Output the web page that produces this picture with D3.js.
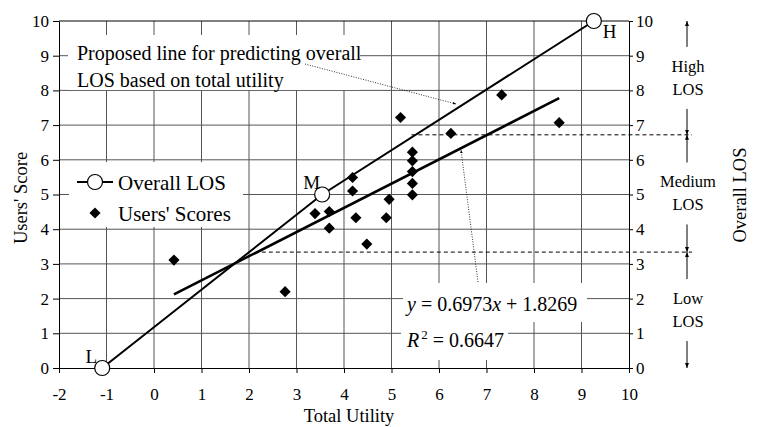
<!DOCTYPE html>
<html lang="en">
<head>
<meta charset="UTF-8">
<title>Overall LOS vs Total Utility</title>
<style>
  body { margin: 0; background: #fff; }
  svg { font-family: "Liberation Serif", "Times New Roman", serif; }
  .grid line { stroke: #555; stroke-width: 1; }
  .axis text { fill: #000; font-family: "Liberation Serif", "Times New Roman", serif; font-size: 17px; }
  .axis path, .axis line { stroke: #000; }
</style>
</head>
<body>
<script src="https://cdn.jsdelivr.net/npm/d3@7"></script>
<script>
// data
const userX = [0.42, 2.76, 3.39, 3.69, 3.69, 4.18, 4.18, 4.25, 4.48, 4.89, 4.95, 5.19, 5.44, 5.44, 5.44, 5.44, 5.44, 6.25, 7.32, 8.53];
const userY = [3.11, 2.20, 4.45, 4.51, 4.03, 5.49, 5.10, 4.33, 3.57, 4.33, 4.86, 7.22, 6.22, 5.97, 5.66, 5.32, 4.99, 6.76, 7.87, 7.07];
const losX = [-1.09, 3.54, 9.26];
const losY = [0, 5, 10];
const losLabels = ['L', 'M', 'H'];
const trendSlope = 0.6973;
const trendIntercept = 1.8269;
const rSquared = 0.6647;
const bandNames = ['Low', 'Medium', 'High'];
const bandEdges = [0, 3.34, 6.72, 10];
const dashStartX = [2.27, 5.42];
const xTicks = [-2, -1, 0, 1, 2, 3, 4, 5, 6, 7, 8, 9, 10];
const yTicks = [0, 1, 2, 3, 4, 5, 6, 7, 8, 9, 10];

const width = 757, height = 427;
const svg = d3.select('body').append('svg').attr('width', width).attr('height', height);

const x = d3.scaleLinear().domain([-2, 10]).range([59, 629]);
const y = d3.scaleLinear().domain([0, 10]).range([368, 21]);

const defs = svg.append('defs');
defs.append('marker').attr('id', 'arr').attr('viewBox', '0 0 10 10')
    .attr('refX', 10).attr('refY', 5).attr('markerWidth', 5).attr('markerHeight', 5)
    .attr('orient', 'auto-start-reverse')
    .append('path').attr('d', 'M0,1L10,5L0,9z').attr('fill', '#000');
defs.append('marker').attr('id', 'arrSmall').attr('viewBox', '0 0 10 10')
    .attr('refX', 10).attr('refY', 5).attr('markerWidth', 4).attr('markerHeight', 4)
    .attr('orient', 'auto')
    .append('path').attr('d', 'M0,1L10,5L0,9z').attr('fill', '#000');

// grid
const grid = svg.append('g').attr('class', 'grid');
grid.selectAll('.gx').data(xTicks.slice(1, -1)).enter().append('line')
    .attr('x1', d => x(d)).attr('x2', d => x(d)).attr('y1', y(0)).attr('y2', y(10));
grid.selectAll('.gy').data(yTicks.slice(1, -1)).enter().append('line')
    .attr('x1', x(-2)).attr('x2', x(10)).attr('y1', d => y(d)).attr('y2', d => y(d));

// white text boxes over grid
svg.append('rect').attr('x', 68).attr('y', 35).attr('width', 292).attr('height', 55).attr('fill', '#fff');
svg.append('rect').attr('x', 69).attr('y', 162).attr('width', 174).attr('height', 65).attr('fill', '#fff');
svg.append('rect').attr('x', 403).attr('y', 283).attr('width', 184).attr('height', 39).attr('fill', '#fff');
svg.append('rect').attr('x', 401).attr('y', 322).attr('width', 107).attr('height', 38).attr('fill', '#fff');

// axes
const fmt = d => String(d);
function styleAxis(g) {
    g.attr('font-family', '"Liberation Serif", "Times New Roman", serif').attr('font-size', 17);
}
svg.append('g').attr('class', 'axis').attr('transform', `translate(${x(-2)},0)`)
    .call(d3.axisLeft(y).tickValues(yTicks).tickSize(6).tickSizeOuter(0).tickPadding(4).tickFormat(fmt))
    .call(styleAxis);
svg.append('g').attr('class', 'axis').attr('transform', `translate(${x(10)},0)`)
    .call(d3.axisRight(y).tickValues(yTicks).tickSize(4).tickSizeOuter(0).tickPadding(3).tickFormat(fmt))
    .call(styleAxis);
svg.append('g').attr('class', 'axis').attr('transform', `translate(0,${y(0)})`)
    .call(d3.axisBottom(x).tickValues(xTicks).tickSize(5).tickSizeOuter(0).tickPadding(15).tickFormat(fmt))
    .call(styleAxis);
svg.append('line').attr('x1', x(-2)).attr('x2', x(10)).attr('y1', y(10)).attr('y2', y(10)).attr('stroke', '#000');

// band threshold dashed lines
svg.selectAll('.dash').data(bandEdges.slice(1, 3)).enter().append('line')
    .attr('x1', (d, i) => x(dashStartX[i])).attr('x2', 692)
    .attr('y1', d => y(d)).attr('y2', d => y(d))
    .attr('stroke', '#000').attr('stroke-dasharray', '4,3');

// trend line
const tx = d3.extent(userX);
svg.append('line')
    .attr('x1', x(tx[0])).attr('y1', y(trendSlope * tx[0] + trendIntercept))
    .attr('x2', x(tx[1])).attr('y2', y(trendSlope * tx[1] + trendIntercept))
    .attr('stroke', '#000').attr('stroke-width', 2.6);

// overall LOS line
const losPts = losX.map((d, i) => [d, losY[i]]);
svg.append('path').attr('d', d3.line().x(d => x(d[0])).y(d => y(d[1]))(losPts))
    .attr('fill', 'none').attr('stroke', '#000').attr('stroke-width', 2);

// user score diamonds
const diamond = d3.symbol(d3.symbolSquare, 62);
svg.selectAll('.pt').data(userX).enter().append('path')
    .attr('d', diamond)
    .attr('transform', (d, i) => `translate(${x(d)},${y(userY[i])}) rotate(45)`)
    .attr('fill', '#000');

// LOS markers + labels
svg.selectAll('.los').data(losPts).enter().append('circle')
    .attr('cx', d => x(d[0])).attr('cy', d => y(d[1])).attr('r', 7.5)
    .attr('fill', '#fff').attr('stroke', '#000').attr('stroke-width', 1.2);
const labOff = [[-5, -5, 'end'], [-2, -6, 'end'], [9, 17, 'start']];
svg.selectAll('.losLab').data(losPts).enter().append('text')
    .attr('x', (d, i) => x(d[0]) + labOff[i][0]).attr('y', (d, i) => y(d[1]) + labOff[i][1])
    .attr('text-anchor', (d, i) => labOff[i][2]).attr('font-size', 19).text((d, i) => losLabels[i]);

// annotation
const ann = svg.append('text').attr('font-size', 20);
ann.append('tspan').attr('x', 77).attr('y', 60).text('Proposed line for predicting overall');
ann.append('tspan').attr('x', 77).attr('y', 87).text('LOS based on total utility');
svg.append('line').attr('x1', 305).attr('y1', 64).attr('x2', 456).attr('y2', 104)
    .attr('stroke', '#000').attr('stroke-width', 0.8).attr('stroke-dasharray', '1,1.5')
    .attr('marker-end', 'url(#arrSmall)');
svg.append('line').attr('x1', 478).attr('y1', 282).attr('x2', 461).attr('y2', 150)
    .attr('stroke', '#000').attr('stroke-width', 0.8).attr('stroke-dasharray', '1,1.5')
    .attr('marker-end', 'url(#arrSmall)');

// equation
const eq = svg.append('text').attr('font-size', 20).attr('x', 407).attr('y', 311);
eq.append('tspan').attr('font-style', 'italic').text('y');
eq.append('tspan').text(' = ' + trendSlope.toFixed(4));
eq.append('tspan').attr('font-style', 'italic').text('x');
eq.append('tspan').text(' + ' + trendIntercept.toFixed(4));
const r2 = svg.append('text').attr('font-size', 20).attr('x', 407).attr('y', 347);
r2.append('tspan').attr('font-style', 'italic').text('R');
r2.append('tspan').attr('font-size', 13).attr('dy', -8).attr('dx', 2).text('2');
r2.append('tspan').attr('dy', 8).text(' = ' + rSquared.toFixed(4));

// legend
svg.append('line').attr('x1', 77).attr('x2', 113).attr('y1', 182).attr('y2', 182).attr('stroke', '#000').attr('stroke-width', 2);
svg.append('circle').attr('cx', 95).attr('cy', 182).attr('r', 7.5).attr('fill', '#fff').attr('stroke', '#000').attr('stroke-width', 1.2);
svg.append('text').attr('x', 118).attr('y', 190).attr('font-size', 21).text('Overall LOS');
svg.append('path').attr('d', diamond).attr('transform', 'translate(95,213) rotate(45)').attr('fill', '#000');
svg.append('text').attr('x', 118).attr('y', 221).attr('font-size', 21).text("Users' Scores");

// LOS bands on the right
const bandX = 687;
bandNames.forEach((name, i) => {
    const lo = bandEdges[i], hi = bandEdges[i + 1];
    const cy = y((lo + hi) / 2);
    const t = svg.append('text').attr('font-size', 16.5).attr('text-anchor', 'middle');
    t.append('tspan').attr('x', bandX + 1).attr('y', cy - 6).text(name);
    t.append('tspan').attr('x', bandX + 1).attr('y', cy + 17).text('LOS');
    svg.append('line').attr('x1', bandX).attr('x2', bandX).attr('y1', cy - 31).attr('y2', y(hi))
        .attr('stroke', '#000').attr('marker-end', 'url(#arr)');
    svg.append('line').attr('x1', bandX).attr('x2', bandX).attr('y1', cy + 31).attr('y2', y(lo))
        .attr('stroke', '#000').attr('marker-end', 'url(#arr)');
});

// axis titles
svg.append('text').attr('x', 349).attr('y', 422).attr('text-anchor', 'middle').attr('font-size', 18.5).text('Total Utility');
svg.append('text').attr('transform', 'translate(27,198) rotate(-90)').attr('text-anchor', 'middle').attr('font-size', 18.5).text("Users' Score");
svg.append('text').attr('transform', 'translate(746,195) rotate(-90)').attr('text-anchor', 'middle').attr('font-size', 18.5).text('Overall LOS');
</script>
</body>
</html>
